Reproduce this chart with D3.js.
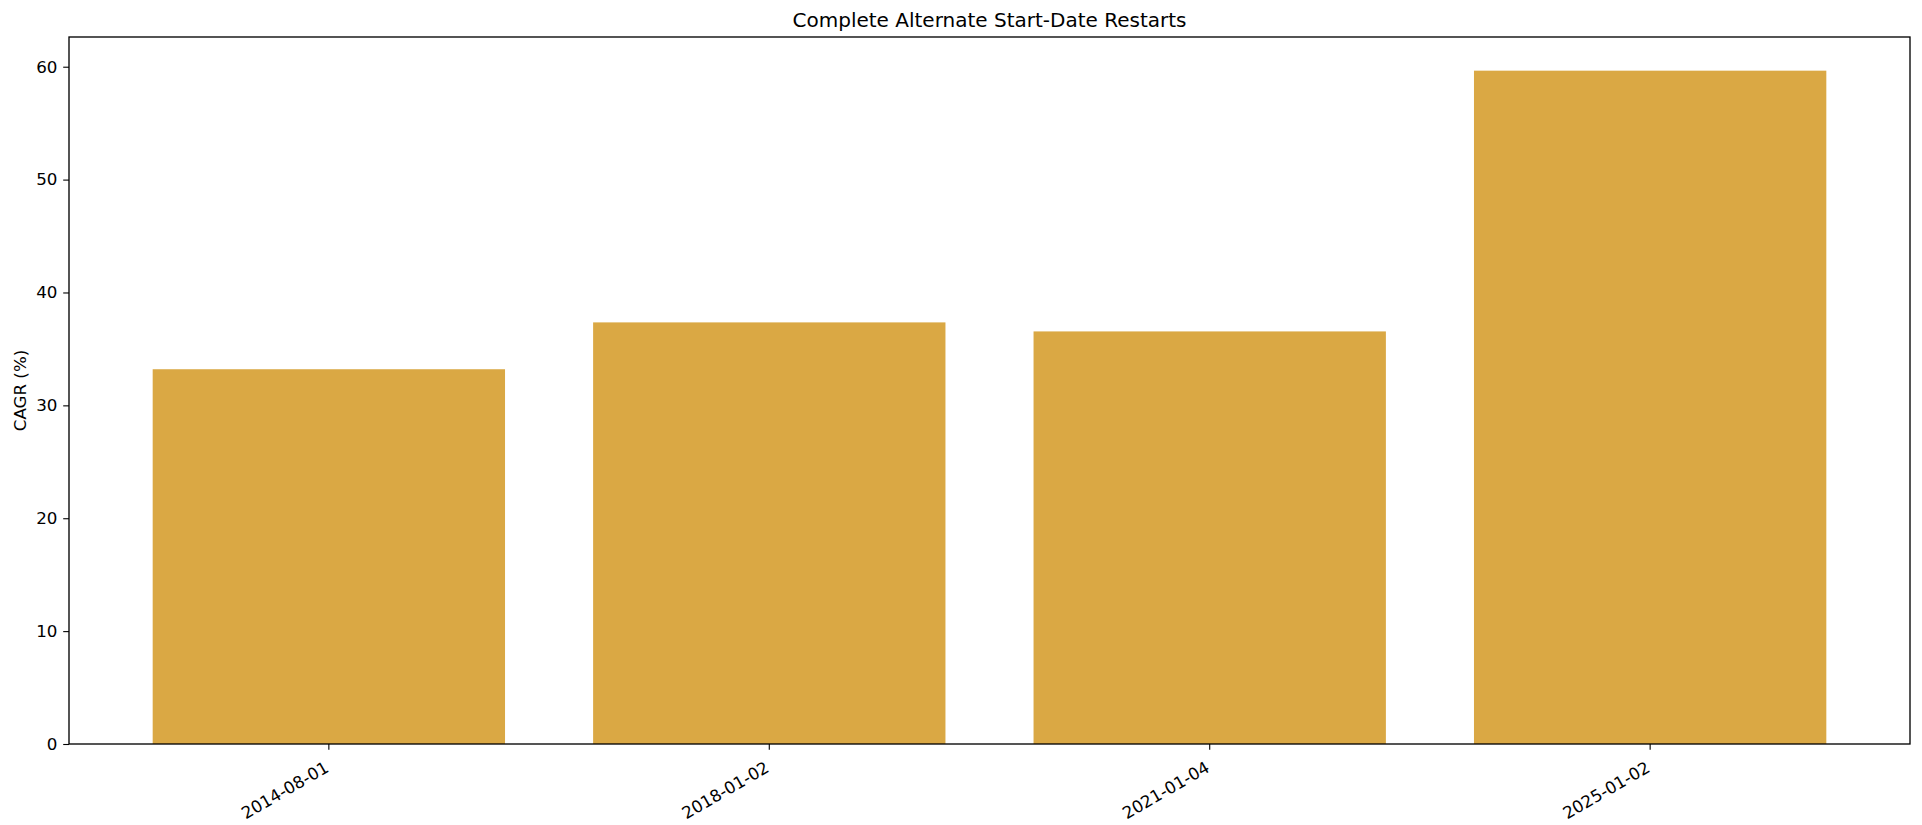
<!DOCTYPE html>
<html>
<head>
<meta charset="utf-8">
<script src="https://cdn.jsdelivr.net/npm/d3@7"></script>
<style>
    body { margin: 0; background: #fff; }
    svg { display: block; }
</style>
</head>
<body>
<div id="chart"></div>
<script>
// Data
const startDates = ['2014-08-01', '2018-01-02', '2021-01-04', '2025-01-02'];
const cagrValues = [33.2, 37.35, 36.55, 59.65];
const yTicks = [0, 10, 20, 30, 40, 50, 60];

const width = 1922;
const height = 825;
const margin = { top: 37, right: 12, bottom: 81, left: 69 };
const innerW = width - margin.left - margin.right;
const innerH = height - margin.top - margin.bottom;
const font = '"DejaVu Sans", sans-serif';

const svg = d3.select('#chart')
    .append('svg')
    .attr('width', width)
    .attr('height', height)
    .style('font-family', font);

const g = svg.append('g')
    .attr('transform', `translate(${margin.left},${margin.top})`);

// matplotlib-like spacing: bar width 0.8, 5% margins on each side
const x = d3.scaleBand()
    .domain(startDates)
    .range([0, innerW])
    .paddingInner(0.2)
    .paddingOuter(0.19);

const y = d3.scaleLinear()
    .domain([0, d3.max(cagrValues) * 1.05])
    .range([innerH, 0]);

// Bars
g.append('g')
    .selectAll('rect')
    .data(startDates)
    .enter()
    .append('rect')
    .attr('x', d => x(d))
    .attr('y', (d, i) => y(cagrValues[i]))
    .attr('width', x.bandwidth())
    .attr('height', (d, i) => innerH - y(cagrValues[i]))
    .attr('fill', '#daa844');

// Y axis
const yAxis = g.append('g')
    .call(d3.axisLeft(y).tickValues(yTicks).tickSize(5.8).tickPadding(5.8).tickFormat(d3.format('d')));
yAxis.select('.domain').remove();
yAxis.selectAll('.tick line').attr('stroke', '#000').attr('stroke-width', 1.1);
yAxis.selectAll('.tick text')
    .style('font-family', font)
    .style('font-size', '16.7px')
    .attr('fill', '#000');

// X axis with rotated labels
const xAxis = g.append('g')
    .attr('transform', `translate(0,${innerH})`)
    .call(d3.axisBottom(x).tickSize(5.8).tickPadding(0));
xAxis.select('.domain').remove();
xAxis.selectAll('.tick line').attr('stroke', '#000').attr('stroke-width', 1.1);
xAxis.selectAll('.tick text')
    .style('font-family', font)
    .style('font-size', '16.7px')
    .attr('fill', '#000')
    .attr('text-anchor', 'end')
    .attr('dy', null)
    .attr('y', 0)
    .attr('transform', 'translate(1,27) rotate(-30)');

// Frame
g.append('rect')
    .attr('width', innerW)
    .attr('height', innerH)
    .attr('fill', 'none')
    .attr('stroke', '#000')
    .attr('stroke-width', 1.33);

// Title
svg.append('text')
    .attr('x', margin.left + innerW / 2)
    .attr('y', margin.top - 10)
    .attr('text-anchor', 'middle')
    .style('font-size', '20px')
    .style('fill', '#000')
    .text('Complete Alternate Start-Date Restarts');

// Y label
svg.append('text')
    .attr('transform', `translate(26,${margin.top + innerH / 2}) rotate(-90)`)
    .attr('text-anchor', 'middle')
    .style('font-size', '16.7px')
    .style('fill', '#000')
    .text('CAGR (%)');
</script>
</body>
</html>
